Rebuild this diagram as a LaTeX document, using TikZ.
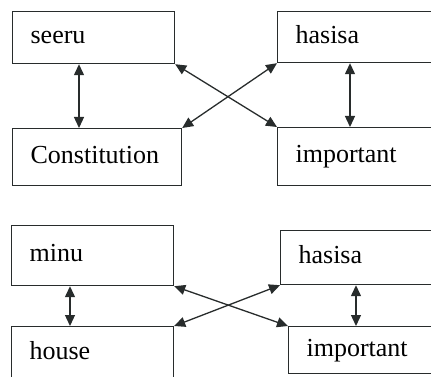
\documentclass[tikz,border=0pt]{standalone}
\usepackage{fontspec}
\setmainfont{Liberation Serif}
\usetikzlibrary{arrows.meta}
\definecolor{ink}{RGB}{40,44,44}
\begin{document}
\begin{tikzpicture}[x=1pt, y=-1pt,
    wordbox/.style={draw=ink, line width=1.2pt, anchor=north west, inner xsep=18pt,
      text height=18pt, text depth=6pt, font=\fontsize{26}{28}\selectfont},
    link/.style={ink, line width=1.3pt, {Triangle[length=11pt,width=10pt]}-{Triangle[length=11pt,width=10pt]}}]
    \useasboundingbox (0,0) rectangle (431,377);
    \clip (0,0) rectangle (431,377);

    % first pair
    \node[wordbox, minimum width=162pt, minimum height=52pt, text width=126pt] (seeru) at (12,11) {seeru};
    \node[wordbox, minimum width=169pt, minimum height=57pt, text width=133pt] (constitution) at (12,128) {Constitution};
    \node[wordbox, minimum width=180pt, minimum height=51pt, text width=144pt] (hasisa) at (277,11) {hasisa};
    \node[wordbox, minimum width=180pt, minimum height=58pt, text width=144pt] (important) at (277,127) {important};

    \draw[link] ([xshift=67pt]seeru.south west) -- ([xshift=67pt]seeru.south west |- constitution.north);
    \draw[link] ([xshift=73pt]hasisa.south west) -- ([xshift=73pt]hasisa.south west |- important.north);
    \draw[link] (seeru.south east) -- (important.north west);
    \draw[link] (constitution.north east) -- (hasisa.south west);

    % second pair
    \node[wordbox, minimum width=162pt, minimum height=60pt, text width=126pt] (minu) at (11,225) {minu};
    \node[wordbox, minimum width=162pt, minimum height=54pt, text width=126pt] (house) at (11,326) {house};
    \node[wordbox, minimum width=180pt, minimum height=54pt, text width=144pt] (hasisab) at (280,230) {hasisa};
    \node[wordbox, minimum width=170pt, minimum height=47pt, text width=134pt] (importantb) at (288,326) {important};

    \draw[link] ([xshift=59pt]minu.south west) -- ([xshift=59pt]minu.south west |- house.north);
    \draw[link] ([xshift=76pt]hasisab.south west) -- ([xshift=76pt]hasisab.south west |- importantb.north);
    \draw[link] (minu.south east) -- (importantb.north west);
    \draw[link] (house.north east) -- (hasisab.south west);
\end{tikzpicture}
\end{document}
